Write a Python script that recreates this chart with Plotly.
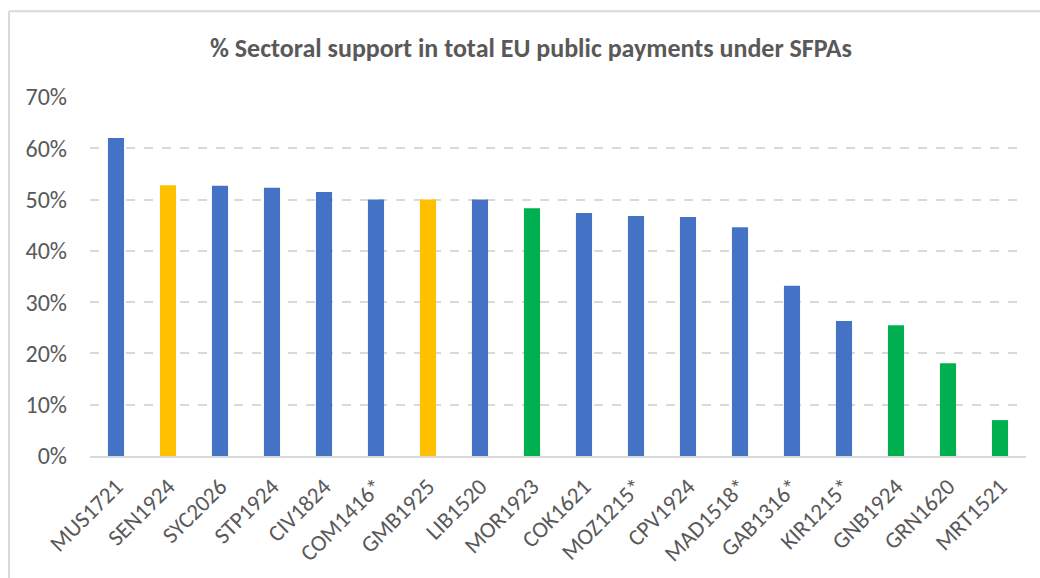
import plotly.graph_objects as go

# SFPA protocols and their sectoral-support share of total EU public payments (%)
protocols = ["MUS1721", "SEN1924", "SYC2026", "STP1924", "CIV1824", "COM1416*",
             "GMB1925", "LIB1520", "MOR1923", "COK1621", "MOZ1215*", "CPV1924",
             "MAD1518*", "GAB1316*", "KIR1215*", "GNB1924", "GRN1620", "MRT1521"]
sectoral_share = [62.0, 52.8, 52.7, 52.3, 51.5, 50.0,
                  50.0, 50.0, 48.3, 47.4, 46.8, 46.6,
                  44.6, 33.2, 26.3, 25.5, 18.1, 7.0]
# colour group per protocol
groups = ["blue", "yellow", "blue", "blue", "blue", "blue",
          "yellow", "blue", "green", "blue", "blue", "blue",
          "blue", "blue", "blue", "green", "green", "green"]
palette = {"blue": "#4472C4", "yellow": "#FFC000", "green": "#00B050"}

y_ticks = [0, 10, 20, 30, 40, 50, 60, 70]
y_tick_text = [f"{v}%" for v in y_ticks]

FONT = "Carlito, Calibri, Lato, sans-serif"
GREY = "#595959"

fig = go.Figure(go.Bar(
    x=protocols,
    y=sectoral_share,
    marker=dict(color=[palette[g] for g in groups], line=dict(width=0)),
    hovertemplate="%{x}: %{y:.1f}%<extra></extra>",
))

fig.update_layout(
    width=1040, height=578,
    margin=dict(l=90, r=14, t=97, b=122),
    paper_bgcolor="white", plot_bgcolor="white",
    bargap=0.69,
    showlegend=False,
    font=dict(family=FONT, color=GREY),
    title=dict(
        text="<b>% Sectoral support in total EU public payments under SFPAs</b>",
        x=531 / 1040, xref="container", xanchor="center",
        y=1 - 48 / 578, yref="container", yanchor="middle",
        font=dict(family=FONT, size=26, color=GREY),
    ),
    xaxis=dict(
        tickangle=-45,
        tickfont=dict(family=FONT, size=23, color=GREY),
        showgrid=False,
        showline=True, linecolor="#d9d9d9", linewidth=2,
        ticks="", ticklabelstandoff=6,
    ),
    yaxis=dict(
        range=[0, 70],
        tickvals=y_ticks, ticktext=y_tick_text,
        tickfont=dict(family=FONT, size=24, color=GREY),
        showgrid=True, gridcolor="#d9d9d9", gridwidth=1.5, griddash="dash",
        zeroline=False, showline=False,
        ticks="", ticklabelstandoff=22,
    ),
    shapes=[
        # chart frame (left and top edges)
        dict(type="line", xref="paper", yref="paper",
             x0=-0.0865, x1=-0.0865, y0=1.2387, y1=-0.45,
             line=dict(color="#d9d9d9", width=2)),
        dict(type="line", xref="paper", yref="paper",
             x0=-0.0865, x1=1.1, y0=1.2387, y1=1.2387,
             line=dict(color="#d9d9d9", width=2)),
    ],
)

fig.write_html("out.html")
